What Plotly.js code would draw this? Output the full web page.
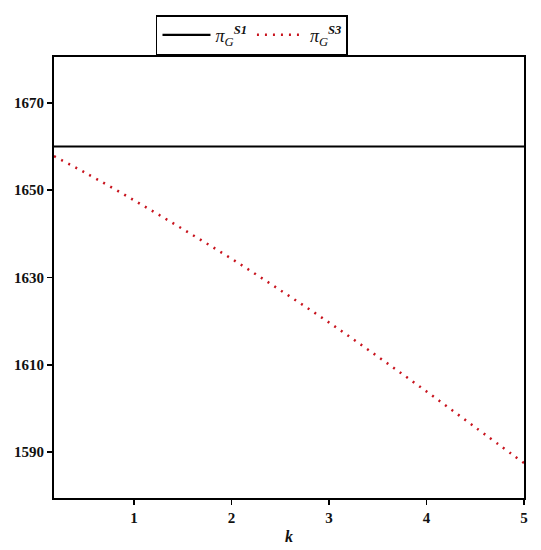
<!DOCTYPE html>
<html>
<head>
<meta charset="utf-8">
<script src="https://cdn.plot.ly/plotly-3.0.1.min.js"></script>
<style>
  body { margin: 0; background: #fff; }
  #chart { width: 541px; height: 550px; }
</style>
</head>
<body>
<div id="chart"></div>
<script>
// values
var kS1 = [0.18, 5];
var piS1 = [1660, 1660];

var kS3 = [0.18, 0.5, 1, 1.5, 2, 2.5, 3, 3.5, 4, 4.5, 5];
var piS3 = [1657.8, 1654.0, 1647.7, 1641.1, 1634.3, 1627.1, 1619.7, 1611.9, 1603.9, 1595.7, 1587.5];

var xTicks = [1, 2, 3, 4, 5];
var yTicks = [1590, 1610, 1630, 1650, 1670];

var tickFont = {family: "Liberation Serif", size: 15, color: "#111", weight: "bold"};

var data = [
    {
        x: kS1, y: piS1, type: "scatter", mode: "lines",
        name: "<i>π</i><sub><i>G</i></sub><sup><b><i>S1</i></b></sup>",
        line: {color: "#000", width: 2.2}
    },
    {
        x: kS3, y: piS3, type: "scatter", mode: "lines",
        name: "<i>π</i><sub><i>G</i></sub><sup><b><i>S3</i></b></sup>",
        line: {color: "rgb(200,20,30)", width: 2.5, dash: "2px,6px", shape: "spline"}
    }
];

var layout = {
    width: 541,
    height: 550,
    margin: {l: 54, r: 17, t: 57, b: 52},
    paper_bgcolor: "#fff",
    plot_bgcolor: "#fff",
    showlegend: true,
    legend: {
        orientation: "h",
        x: 0.217, y: 1.095,
        xanchor: "left", yanchor: "top",
        bordercolor: "#000", borderwidth: 1.5,
        font: {family: "Liberation Serif", size: 18, color: "#111"},
        itemwidth: 48,
        tracegroupgap: 0
    },
    xaxis: {
        range: [0.18, 5.0],
        tickvals: xTicks,
        ticks: "outside", ticklen: 5, tickwidth: 1.5, tickcolor: "#000",
        showline: true, linecolor: "#000", linewidth: 2, mirror: true,
        showgrid: false, zeroline: false,
        tickfont: tickFont,
        title: {text: "<i><b>k</b></i>", font: {family: "Liberation Serif", size: 16, color: "#111"}, standoff: 6}
    },
    yaxis: {
        range: [1579.5, 1680.5],
        tickvals: yTicks,
        ticks: "outside", ticklen: 5, tickwidth: 1.5, tickcolor: "#000",
        showline: true, linecolor: "#000", linewidth: 2, mirror: true,
        showgrid: false, zeroline: false,
        tickfont: tickFont
    }
};

Plotly.newPlot("chart", data, layout, {displayModeBar: false, staticPlot: true});
</script>
</body>
</html>
